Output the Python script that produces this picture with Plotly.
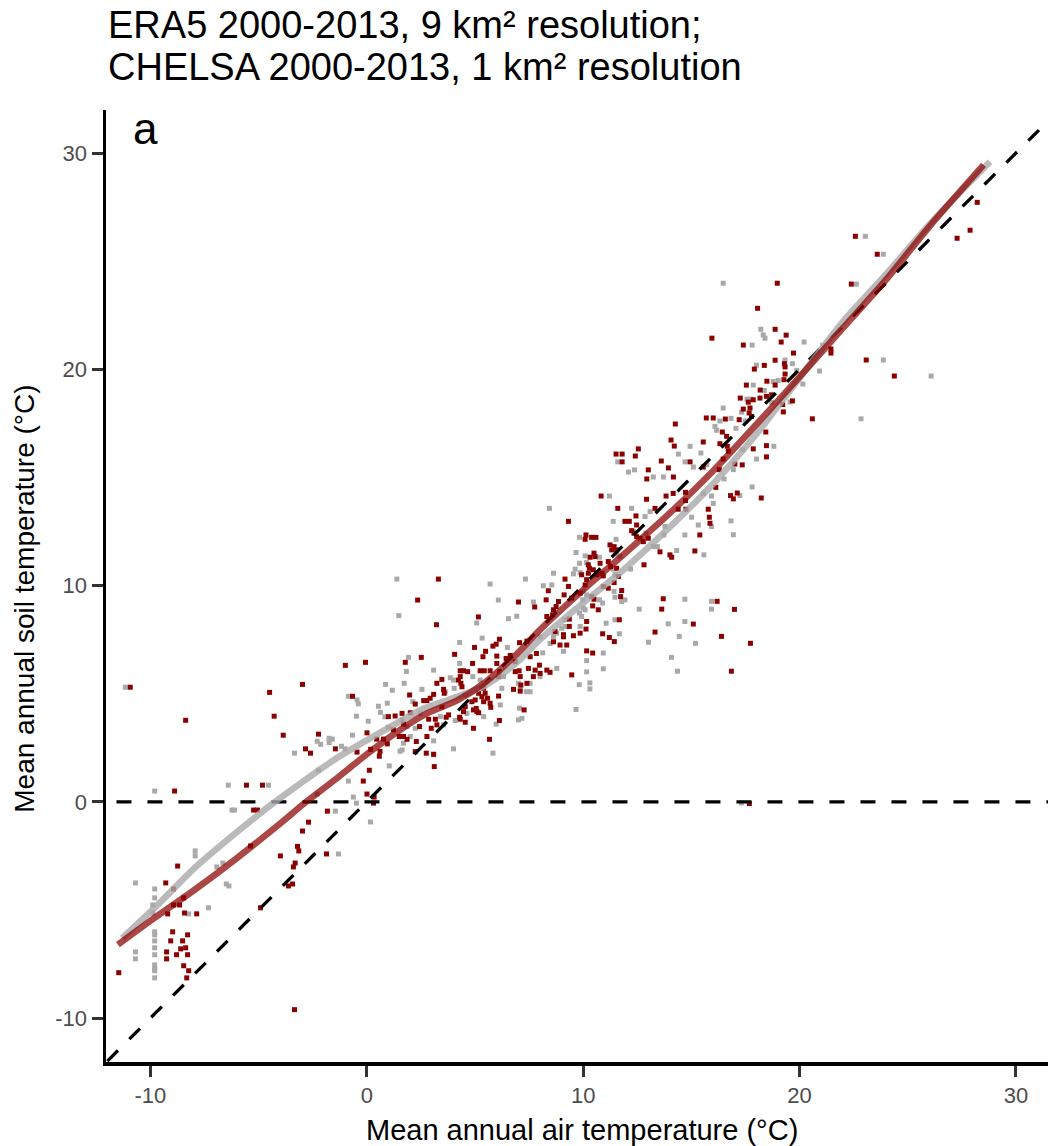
import plotly.graph_objects as go

# ---------------- data ----------------
# CHELSA points (dark red): mean annual air temperature vs soil temperature
chelsa_pts = [
    (-10.93,5.30),(-8.37,3.77),(-4.49,5.06),(-2.97,5.43),(-4.28,3.96),(-3.86,3.08),(-0.99,6.31),(-0.06,6.45),
    (-0.66,4.88),(-2.23,3.13),(-2.83,2.45),(-2.60,2.25),(-1.45,2.45),(-0.45,2.30),(0.01,3.19),(0.12,1.46),
    (-0.16,0.96),(0.01,0.36),(0.31,-0.06),(-1.82,-0.43),(-2.69,-0.94),(-2.97,-1.35),(-3.20,-2.06),(-3.14,-2.27),
    (-3.99,-2.50),(-1.86,-2.41),(-3.31,-2.83),(-3.39,-3.01),(-3.43,-3.80),(-3.62,-3.89),(-4.91,-4.90),(-5.56,0.77),
    (-4.82,0.77),(-5.23,-0.38),(-5.05,-0.38),(-5.37,-2.04),(-8.88,0.50),(-8.74,-2.97),(-9.29,-3.75),(-8.93,-4.03),
    (-8.46,-4.44),(-8.93,-4.77),(-8.65,-4.77),(-9.20,-5.18),(-8.42,-5.14),(-7.86,-5.18),(-8.97,-6.01),(-8.28,-6.15),
    (-9.06,-6.43),(-8.51,-6.43),(-8.60,-6.80),(-8.37,-6.75),(-9.25,-6.94),(-8.79,-7.07),(-8.28,-7.07),(-9.25,-7.26),
    (-8.46,-7.58),(-8.23,-7.81),(-8.32,-8.14),(-11.46,-7.90),(-3.34,-9.61),(0.58,2.11),(1.00,3.94),(1.31,3.97),
    (0.46,2.90),(0.77,2.90),(0.95,2.68),(1.23,3.33),(1.50,3.02),(0.18,2.43),(0.61,2.33),(0.34,0.22),
    (6.13,7.52),(4.98,7.14),(5.83,7.20),(5.98,7.29),(4.06,6.82),(2.52,6.68),(1.78,6.45),(5.37,6.71),(5.49,6.96),
    (6.01,6.74),(6.63,6.77),(6.44,6.63),(7.06,7.36),(7.40,7.43),(7.84,6.86),(8.63,7.40),(8.93,7.25),(9.24,7.25),
    (9.09,7.63),(4.89,6.40),(6.01,6.40),(6.86,6.48),(7.55,6.71),(7.98,6.32),(7.47,6.17),(7.78,6.09),(8.32,6.09),
    (8.47,5.99),(7.04,6.06),(6.86,6.02),(7.09,5.79),(6.13,6.02),(6.09,5.79),(5.24,6.06),(5.43,6.06),(5.70,6.06),
    (4.32,6.06),(4.47,6.06),(4.66,6.02),(4.32,5.79),(4.24,5.63),(4.35,5.48),(4.40,5.32),(3.47,5.66),(3.24,5.48),
    (3.55,5.20),(3.58,5.02),(3.09,4.97),(1.98,4.94),(2.24,4.52),(2.63,4.68),(2.78,4.68),(2.93,4.79),(5.40,5.25),
    (5.58,4.79),(5.73,4.37),(5.32,4.86),(5.17,5.02),(5.47,5.02),(5.40,4.63),(5.70,4.56),(4.86,4.63),(5.01,4.71),
    (5.06,4.32),(5.09,4.17),(4.93,4.25),(5.17,4.12),(4.55,4.40),(4.47,4.17),(4.29,3.91),(4.32,3.82),(6.09,4.89),
    (6.78,5.20),(7.12,5.40),(7.40,5.48),(7.09,5.12),(7.27,4.25),(6.13,3.76),(4.55,3.68),(4.93,3.40),(5.67,2.89),
    (3.17,3.82),(3.24,3.56),(2.86,3.82),(2.98,3.40),(2.44,3.48),(2.78,3.02),(2.29,2.79),(2.24,2.32),(2.75,2.25),
    (3.09,2.20),(3.12,1.63),(1.70,3.02),(1.86,2.89),(1.63,4.09),(2.01,4.12),(7.70,5.79),(8.01,5.94),(1.70,3.60),
    (3.78,4.02),(3.67,3.91),(3.47,4.40),
    (3.31,10.30),(2.35,9.33),(3.22,8.19),(5.16,8.55),(7.01,9.24),(7.76,9.01),
    (10.16,6.98),(10.44,6.88),(11.44,7.41),(9.47,5.87),
    (10.83,14.14),(11.60,13.57),(12.93,13.99),(9.32,12.97),(11.93,12.97),(12.13,12.97),(12.44,13.22),(13.32,13.57),
    (13.83,14.14),(14.16,14.26),(14.73,14.31),(14.73,13.93),(14.39,13.53),(14.75,13.53),(16.13,14.54),(15.78,13.53),
    (15.83,13.16),(15.86,12.88),(15.39,12.34),(15.16,11.60),(14.01,11.42),(14.09,11.31),(13.55,11.56),(12.47,12.80),
    (12.24,12.54),(12.35,12.42),(12.47,12.26),(12.63,12.19),(12.78,12.03),(13.01,12.19),(10.13,12.34),(10.39,12.23),
    (10.59,12.23),(10.09,12.14),(11.24,11.88),(11.43,11.80),(11.32,11.65),(11.55,11.65),(10.50,11.50),(10.55,11.34),
    (10.32,11.31),(10.78,11.03),(11.16,11.11),(11.27,10.88),(11.55,10.80),(10.24,10.96),(10.29,10.80),(10.24,10.57),
    (10.47,10.73),(10.63,10.50),(10.86,10.57),(10.93,10.45),(9.93,10.50),(10.16,10.27),(10.09,10.03),(9.16,10.30),
    (9.32,9.96),(8.39,9.76),(8.29,9.34),(8.86,9.26),(8.75,9.03),(8.63,8.88),(9.12,9.57),(9.47,9.42),(9.86,9.65),
    (10.39,9.49),(10.50,9.37),(10.44,9.06),(10.70,8.88),(10.93,9.96),(11.16,9.88),(11.43,10.14),(11.63,10.42),
    (11.78,9.77),(11.73,9.49),(12.81,10.96),(13.70,9.39),(13.63,8.91),(11.67,8.42),(10.16,8.34),(10.13,7.99),
    (9.36,8.45),(9.36,8.11),(9.55,7.68),(9.86,7.80),(9.09,7.73),(8.70,7.88),(8.32,8.57),(8.59,8.65),(10.90,7.77),
    (11.21,7.60),(13.32,7.85),(15.09,8.22),(16.19,9.27),
    (18.97,23.98),(18.06,22.82),(18.87,21.85),(15.95,21.44),(17.40,21.12),(18.37,20.18),(17.91,20.01),(18.87,20.42),
    (18.49,19.45),(17.54,19.27),(18.18,19.04),(18.87,19.27),(17.26,18.67),(17.63,18.48),(17.86,18.59),(18.17,18.67),
    (18.47,18.75),(18.71,18.82),(17.40,18.16),(17.71,18.21),(17.67,17.98),(17.78,17.82),(15.69,17.75),(16.01,17.75),
    (16.57,17.70),(17.21,17.67),(14.26,17.47),(16.43,17.10),(16.63,16.90),(15.55,16.64),(16.32,16.56),(16.66,16.44),
    (16.71,16.21),(14.06,16.73),(14.21,16.45),(12.55,16.32),(12.41,15.99),(11.52,16.08),(11.80,16.08),(11.80,15.72),
    (13.01,15.35),(12.94,14.93),(13.61,15.76),(13.94,15.44),(14.17,15.02),(14.94,15.72),(15.55,15.48),(16.29,15.36),
    (16.47,15.85),(17.01,15.62),(17.35,15.58),(17.86,16.32),(18.47,16.47),(18.47,15.95),(18.44,17.10),(18.23,14.05),
    (17.12,14.28),(16.81,14.16),(16.94,14.01),
    (28.21,27.72),(27.88,26.43),(27.28,26.06),(22.58,26.15),(23.59,25.32),(22.39,23.94),(19.38,21.58),(19.15,21.26),
    (19.72,20.75),(21.45,20.94),(21.45,20.75),(19.30,20.26),(19.33,20.11),(19.33,19.78),(19.28,19.52),(23.08,20.43),
    (24.38,19.69),(19.67,18.54),(19.22,18.37),(19.25,18.03),(20.59,17.71),
    (16.99,8.90),(16.39,7.65),(17.73,7.33),(16.85,6.04),(17.68,-0.08),
]

# ERA5 points (grey)
era5_pts = [
    (-11.16,5.30),(-9.80,0.50),(-10.69,-3.75),(-9.80,-4.03),(-9.80,-4.44),(-9.89,-4.77),(-9.88,-5.14),(-9.80,-6.01),
    (-9.80,-6.15),(-9.80,-6.43),(-9.80,-6.75),(-9.80,-7.07),(-9.80,-7.54),(-9.80,-7.72),(-9.80,-7.81),(-9.80,-8.14),
    (-10.69,-6.94),(-10.69,-7.26),(-7.93,-2.27),(-7.93,-2.50),(-8.23,-5.18),(-7.31,-4.90),(-6.93,-3.01),(-6.65,-2.83),
    (-6.49,-3.80),(-6.37,-3.89),(-6.40,0.77),(-4.54,0.77),(-6.23,-0.38),(-6.11,-0.38),(-3.34,2.25),(-2.23,1.46),
    (-2.29,0.36),(-1.45,-0.43),(-0.85,0.96),(-0.62,0.22),(-0.48,-0.06),(0.17,-0.93),(-1.31,-2.41),(-0.48,3.96),
    (-0.85,4.88),(-0.45,4.71),(-0.39,4.53),(0.07,3.73),(-0.66,3.08),(-1.17,2.57),(-1.00,2.45),(-2.29,2.80),
    (-2.13,2.66),(-1.74,2.94),(-1.59,2.90),(-1.74,2.74),(0.87,5.43),(1.18,5.16),(0.84,3.93),(0.54,4.42),(0.63,4.14),
    (0.95,4.56),(1.04,1.66),(1.00,3.45),(1.54,2.34),
    (5.33,7.57),(4.29,7.37),(1.93,6.68),(1.83,6.03),(1.73,5.48),(3.09,6.09),(4.29,6.40),(6.50,7.14),(8.13,6.89),
    (9.09,6.96),(8.78,6.17),(8.01,5.79),(7.55,5.48),(7.37,5.09),(7.55,5.09),(7.01,5.48),(7.09,5.25),(6.32,5.79),
    (6.24,5.25),(6.17,4.48),(7.06,4.33),(7.17,3.86),(7.01,3.79),(5.98,3.59),(5.40,3.94),(5.83,2.25),(4.01,2.45),
    (3.09,2.82),(3.86,5.74),(4.01,5.63),(4.04,5.25),(3.63,5.09),(2.55,5.20),(2.13,4.63),(2.47,4.09),(3.40,3.94),
    (3.55,3.56),(4.09,3.76),(4.55,4.94),(4.63,4.09),(4.90,5.79),(5.24,5.63),(1.63,3.79),(1.86,3.48),(2.24,3.40),
    (2.01,3.02),(1.70,2.71),(1.63,2.40),(3.09,2.17),(8.01,7.63),(8.47,7.32),
    (1.39,10.30),(1.48,8.61),(5.70,10.07),(7.33,10.30),(6.08,9.33),(7.70,9.24),(5.08,8.27),(6.93,8.58),(6.55,8.47),
    (10.93,6.88),(10.93,6.15),(10.16,6.53),(10.16,6.01),(9.82,5.42),(9.67,4.27),(10.31,5.50),(10.31,5.22),
    (11.21,14.14),(8.44,13.57),(12.24,13.57),(11.39,12.97),(12.86,13.19),(13.09,13.42),(9.83,12.23),(11.52,12.14),
    (12.32,12.50),(12.90,12.42),(13.24,11.80),(13.43,11.80),(13.78,12.73),(13.73,12.34),(14.32,11.62),(14.70,12.34),
    (15.01,13.16),(15.32,12.80),(15.93,12.73),(15.55,14.26),(15.93,14.14),(16.01,13.80),(15.58,11.42),(9.67,11.53),
    (9.83,11.03),(10.09,11.37),(10.16,11.06),(9.63,10.76),(9.55,10.54),(9.86,10.60),(10.75,11.31),(11.55,11.46),
    (11.70,11.34),(11.39,10.76),(11.47,10.50),(12.19,10.76),(8.63,10.57),(8.16,9.99),(8.55,10.03),(10.01,9.73),
    (10.16,9.57),(9.98,9.34),(10.75,9.34),(10.90,9.19),(11.43,9.73),(11.47,9.46),(11.78,9.26),(11.93,9.34),
    (10.01,8.96),(10.09,8.88),(9.83,8.73),(9.93,8.57),(9.86,8.11),(9.16,8.42),(9.16,8.11),(9.01,8.03),(8.78,7.80),
    (8.63,7.65),(11.67,7.77),(11.47,8.42),(11.06,8.26),(12.59,8.91),(13.93,8.23),(14.70,8.34),(14.44,7.65),
    (14.70,9.37),(15.93,9.27),(15.93,8.91),
    (16.47,23.98),(18.21,21.85),(18.32,21.59),(18.40,21.44),(17.81,21.12),(18.01,20.19),(17.86,19.27),(19.01,19.48),
    (18.78,19.44),(18.37,19.02),(18.71,18.47),(17.57,18.62),(17.75,18.62),(16.47,18.21),(17.32,18.02),(17.49,17.61),
    (16.32,17.61),(16.09,17.36),(16.17,17.18),(16.83,17.73),(17.06,17.27),(17.37,16.28),(18.01,15.85),(18.81,16.44),
    (15.44,16.13),(14.94,16.44),(14.40,16.08),(14.71,15.72),(15.09,15.48),(15.71,15.59),(16.94,15.36),(16.51,14.93),
    (13.24,15.02),(13.71,15.02),(12.37,15.35),(12.09,15.25),(11.60,15.72),(17.81,14.56),(17.24,14.16),(16.94,12.35),
    (16.83,12.99),
    (23.04,26.15),(23.87,25.32),(22.62,23.94),(20.21,21.26),(19.33,20.43),(19.67,20.26),(19.87,19.95),(20.92,19.92),
    (20.15,19.32),(23.87,20.43),(26.08,19.69),(22.84,17.71),(19.56,18.49),(21.07,21.11),
    (14.08,6.68),(14.36,6.04),(15.19,7.33),(17.31,-0.05),(13.02,7.38),
]

chelsa_air = [p[0] for p in chelsa_pts]
chelsa_soil = [p[1] for p in chelsa_pts]
era5_air = [p[0] for p in era5_pts]
era5_soil = [p[1] for p in era5_pts]

# smoothed fits
chelsa_fit_x = [-11.5, -10, -8, -6, -4, -2.8, -1.5, 0, 1.5, 2.8, 4.2, 5.5, 7, 8, 10, 12, 14, 16, 18, 20, 22, 24, 26, 28.5]
chelsa_fit_y = [-6.6, -5.5, -4.1, -2.6, -1.0, 0.0, 1.0, 2.2, 3.3, 4.1, 4.7, 5.55, 6.9, 7.95, 9.8, 11.55, 13.35, 15.3,
                17.45, 19.65, 21.9, 24.15, 26.6, 29.45]
era5_fit_x = [-11.3, -9.5, -8, -6, -4.5, -3, -1.5, 0, 1.5, 2.5, 4, 5.5, 7, 8, 10, 12, 14, 16, 18, 20, 22, 24, 26, 28.8]
era5_fit_y = [-6.3, -4.6, -3.1, -1.4, -0.2, 0.9, 1.95, 2.85, 3.7, 4.25, 4.8, 5.4, 6.5, 7.5, 9.2, 10.85,
              12.7, 14.7, 17.0, 19.6, 22.2, 24.4, 26.7, 29.6]

ref_line = [-13, 33]
zero_line_x = [-13, 33]
zero_line_y = [0, 0]

tick_vals = [-10, 0, 10, 20, 30]
tick_text = ["-10", "0", "10", "20", "30"]

title_lines = ["ERA5 2000-2013, 9 km² resolution;", "CHELSA 2000-2013, 1 km² resolution"]
x_title = "Mean annual air temperature (°C)"
y_title = "Mean annual soil temperature (°C)"
panel_tag = "a"

# ---------------- figure ----------------
FONT = "Liberation Sans, Arial, sans-serif"
fig = go.Figure()

fig.add_trace(go.Scatter(x=era5_air, y=era5_soil, mode="markers",
                         marker=dict(symbol="square", size=5, color="#a9a9a9", line=dict(width=0)),
                         hoverinfo="skip"))
fig.add_trace(go.Scatter(x=chelsa_air, y=chelsa_soil, mode="markers",
                         marker=dict(symbol="square", size=5, color="#8b0000", line=dict(width=0)),
                         hoverinfo="skip"))
fig.add_trace(go.Scatter(x=zero_line_x, y=zero_line_y, mode="lines",
                         line=dict(color="black", width=3.3, dash="15px,16px"), hoverinfo="skip"))
fig.add_trace(go.Scatter(x=ref_line, y=ref_line, mode="lines",
                         line=dict(color="black", width=3.3, dash="15px,16px"), hoverinfo="skip"))
fig.add_trace(go.Scatter(x=era5_fit_x, y=era5_fit_y, mode="lines", line_shape="spline",
                         line=dict(color="rgba(169,169,169,0.8)", width=6.5, smoothing=0.8), hoverinfo="skip"))
fig.add_trace(go.Scatter(x=chelsa_fit_x, y=chelsa_fit_y, mode="lines", line_shape="spline",
                         line=dict(color="rgba(139,0,0,0.72)", width=6.5, smoothing=0.8), hoverinfo="skip"))

axis_common = dict(
    showgrid=False, zeroline=False, showline=True, linecolor="black", linewidth=3.5,
    ticks="outside", ticklen=11, tickwidth=3, tickcolor="#333333",
    tickvals=tick_vals, ticktext=tick_text,
    tickfont=dict(family=FONT, size=22, color="#4d4d4d"),
)

fig.update_layout(
    width=1048, height=1146,
    margin=dict(l=106, r=0, t=110, b=84),
    paper_bgcolor="white", plot_bgcolor="white",
    showlegend=False,
    font=dict(family=FONT, color="black"),
    xaxis=dict(range=[-12.05, 31.48], **axis_common),
    yaxis=dict(range=[-12.03, 31.99], **axis_common),
    annotations=[
        dict(text=title_lines[0], xref="paper", yref="paper", x=0.0, y=1.0896, xanchor="left", yanchor="middle",
             showarrow=False, font=dict(size=38, color="black", family=FONT)),
        dict(text=title_lines[1], xref="paper", yref="paper", x=0.0, y=1.0447, xanchor="left", yanchor="middle",
             showarrow=False, font=dict(size=38, color="black", family=FONT)),
        dict(text=panel_tag, xref="paper", yref="paper", x=0.0268, y=0.9805, xanchor="left", yanchor="middle",
             showarrow=False, font=dict(size=44, color="black", family=FONT)),
        dict(text=x_title, xref="paper", yref="paper", x=0.5053, y=-0.0714, xanchor="center", yanchor="middle",
             showarrow=False, font=dict(size=29, color="black", family=FONT)),
        dict(text=y_title, xref="paper", yref="paper", x=-0.0867, y=0.487, xanchor="center", yanchor="middle",
             textangle=-90, showarrow=False, font=dict(size=28, color="black", family=FONT)),
    ],
)

# remove the browser's default 8px body margin so the figure fills the window exactly
fig.write_html(
    "out.html",
    config={"displayModeBar": False, "staticPlot": True},
    post_script="document.body.style.margin='0';document.body.style.overflow='hidden';",
)
